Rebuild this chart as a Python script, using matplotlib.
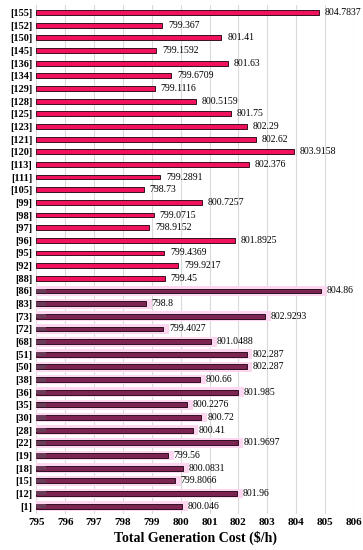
import matplotlib.pyplot as plt

ids = [155, 152, 150, 145, 136, 134, 129, 128, 125, 123, 121, 120, 113, 111, 105,
       99, 98, 97, 96, 95, 92, 88, 86, 83, 73, 72, 68, 51, 50, 38, 36, 35, 30, 28,
       22, 19, 18, 15, 12, 1]
costs = [804.7837, 799.367, 801.41, 799.1592, 801.63, 799.6709, 799.1116, 800.5159,
         801.75, 802.29, 802.62, 803.9158, 802.376, 799.2891, 798.73, 800.7257,
         799.0715, 798.9152, 801.8925, 799.4369, 799.9217, 799.45, 804.86, 798.8,
         802.9293, 799.4027, 801.0488, 802.287, 802.287, 800.66, 801.985, 800.2276,
         800.72, 800.41, 801.9697, 799.56, 800.0831, 799.8066, 801.96, 800.046]
label_txt = ["804.7837", "799.367", "801.41", "799.1592", "801.63", "799.6709", "799.1116",
             "800.5159", "801.75", "802.29", "802.62", "803.9158", "802.376", "799.2891",
             "798.73", "800.7257", "799.0715", "798.9152", "801.8925", "799.4369", "799.9217",
             "799.45", "804.86", "798.8", "802.9293", "799.4027", "801.0488", "802.287",
             "802.287", "800.66", "801.985", "800.2276", "800.72", "800.41", "801.9697",
             "799.56", "800.0831", "799.8066", "801.96", "800.046"]
n_top = 22  # first group drawn in bright pink
xmin, xmax = 795, 806

plt.rcParams['font.family'] = ['Liberation Serif', 'DejaVu Serif']

fig, ax = plt.subplots(figsize=(3.63, 5.5), dpi=100)
fig.subplots_adjust(left=0.10, right=0.975, top=0.991, bottom=0.066)

n = len(ids)
ypos = list(range(n - 1, -1, -1))

for i, (y, v) in enumerate(zip(ypos, costs)):
    w = v - xmin
    if i < n_top:
        ax.barh(y, w, left=xmin, height=0.38, color='#f0125c',
                edgecolor='#3a1020', linewidth=0.7, zorder=3)
    else:
        ax.barh(y, w + 0.25, left=xmin - 0.05, height=0.78, color='#fdd6ef',
                edgecolor='none', zorder=2)
        ax.barh(y, w, left=xmin, height=0.38, color='#7e2452',
                edgecolor='#2e1020', linewidth=0.7, zorder=3)
        ax.barh(y, 0.35, left=xmin, height=0.32, color='#6a3c58',
                edgecolor='none', zorder=4)
    ax.text(v + 0.2, y, label_txt[i], va='center', ha='left', fontsize=7, zorder=5)

ax.set_xlim(xmin, xmax)
ax.set_ylim(-0.6, n - 0.4)
ax.set_xticks(range(xmin, xmax + 1))
ax.set_yticks(ypos)
ax.set_yticklabels([f"[{k}]" for k in ids], fontweight='bold', fontsize=7.5)
for t in ax.get_xticklabels():
    t.set_fontweight('bold')
    t.set_fontsize(8)
ax.tick_params(length=0, pad=3)
ax.xaxis.grid(True, color='#d9d9d9', linewidth=0.8, zorder=0)
ax.set_axisbelow(True)
for s in ax.spines.values():
    s.set_visible(False)
ax.set_xlabel('Total Generation Cost ($/h)', fontweight='bold', fontsize=10, labelpad=3)

fig.savefig('out.png', dpi=100)
